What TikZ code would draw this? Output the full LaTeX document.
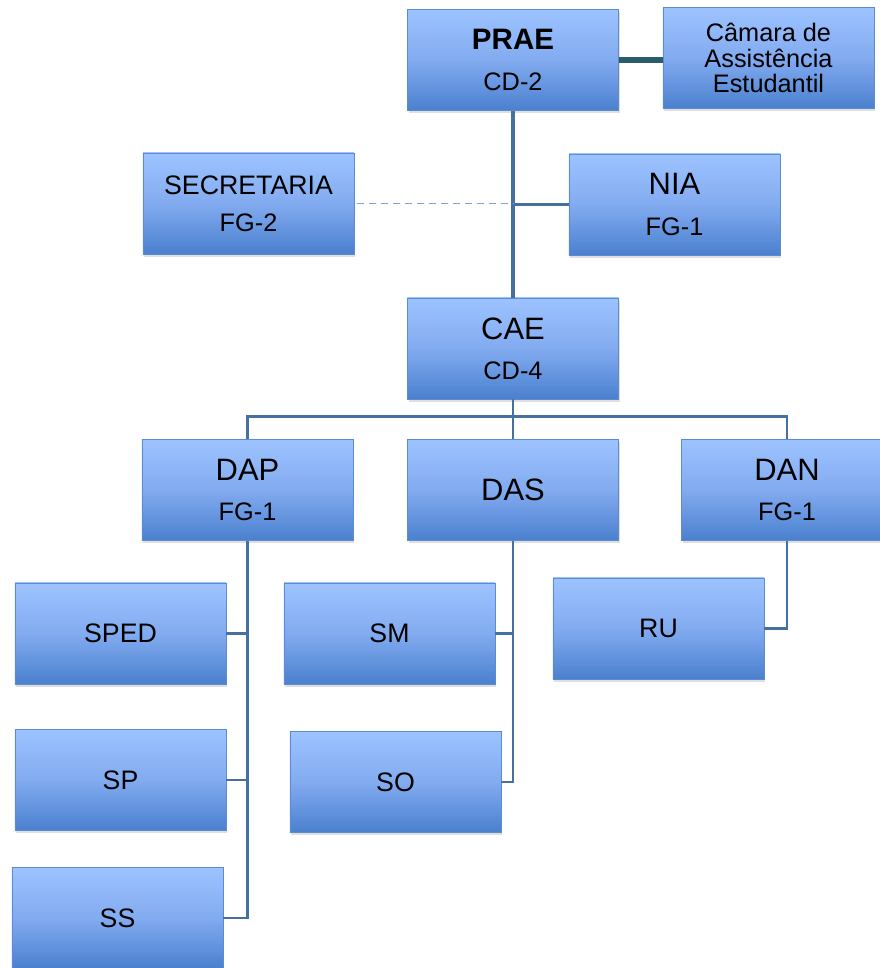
\documentclass[tikz,border=0pt]{standalone}
\usepackage{fontspec}
\setmainfont{Liberation Sans}
\usetikzlibrary{shadows}

\definecolor{boxtop}{HTML}{9DC3FF}
\definecolor{boxmid}{HTML}{82ABF0}
\definecolor{boxbot}{HTML}{4A80CE}
\definecolor{boxline}{HTML}{5B8BD2}
\definecolor{linkblue}{HTML}{46709F}
\definecolor{linkteal}{HTML}{2A5C6C}
\definecolor{dashblue}{HTML}{7FA3D8}

\newcommand{\subtxt}[1]{{\fontsize{18}{28.5}\selectfont #1}}

\begin{document}
\begin{tikzpicture}[x=0.025cm, y=-0.025cm,
  unit/.style={rectangle, draw=boxline, line width=0.6pt,
    top color=boxtop, bottom color=boxbot, middle color=boxmid,
    minimum width=5.275cm, minimum height=2.525cm, inner sep=0pt,
    align=center, font=\fontsize{22}{28.5}\selectfont,
    drop shadow={shadow xshift=1pt, shadow yshift=-2pt, opacity=0.25}},
  leaf/.style={unit, font=\fontsize{19}{24}\selectfont},
  link/.style={linkblue, line width=2.1pt},
  trunk/.style={linkblue, line width=2.8pt}]
\useasboundingbox (0,0) rectangle (880,968);

% Top
\node[unit] (prae) at (513,60) {\fontsize{21}{28.5}\selectfont\bfseries PRAE\\\subtxt{CD-2}};
\node[unit, font=\fontsize{18}{17.6}\selectfont] (camara) at (768.5,58) {Câmara de\\[0.6pt]Assistência\\[0.6pt]Estudantil};
\node[unit] (nia) at (674.5,204.5) {NIA\\\subtxt{FG-1}};
\node[leaf, font=\fontsize{19}{26.3}\selectfont] (secretaria) at (248.5,203.5) {SECRETARIA\\\subtxt{FG-2}};
\node[unit] (cae) at (513,348.5) {CAE\\\subtxt{CD-4}};

% Diretorias
\node[unit] (dap) at (247.5,490) {DAP\\\subtxt{FG-1}};
\node[unit] (das) at (513,490) {DAS};
\node[unit] (dan) at (787,490) {DAN\\\subtxt{FG-1}};

% Setores
\node[leaf] (sped) at (120.5,633.5) {SPED};
\node[leaf] (sp) at (120.5,780) {SP};
\node[leaf] (ss) at (117.5,918) {SS};
\node[leaf] (sm) at (389.5,633.5) {SM};
\node[leaf] (so) at (395.5,782) {SO};
\node[leaf] (ru) at (658.5,628.5) {RU};

% Links
\draw[linkteal, line width=3.6pt] (prae) -- (camara.west |- prae);
\draw[trunk] (prae.south) -- (cae.north);
\draw[link] (nia.west) -- (prae.south |- nia.west);
\draw[dashblue, line width=1.1pt, dash pattern=on 5pt off 3.5pt] (secretaria.east) ++(3,0) -- (prae.south |- secretaria.east);
\draw[link] (cae.south) -- (das.north);
\draw[link] (dap.north) -- ++(0,-23) -| (dan.north);

\draw[link] (dap.south) |- (ss.east);
\draw[link] (sped.east) -- (dap.south |- sped.east);
\draw[link] (sp.east) -- (dap.south |- sp.east);
\draw[link] (das.south) |- (so.east);
\draw[link] (sm.east) -- (das.south |- sm.east);
\draw[link] (dan.south) |- (ru.east);
\end{tikzpicture}
\end{document}
